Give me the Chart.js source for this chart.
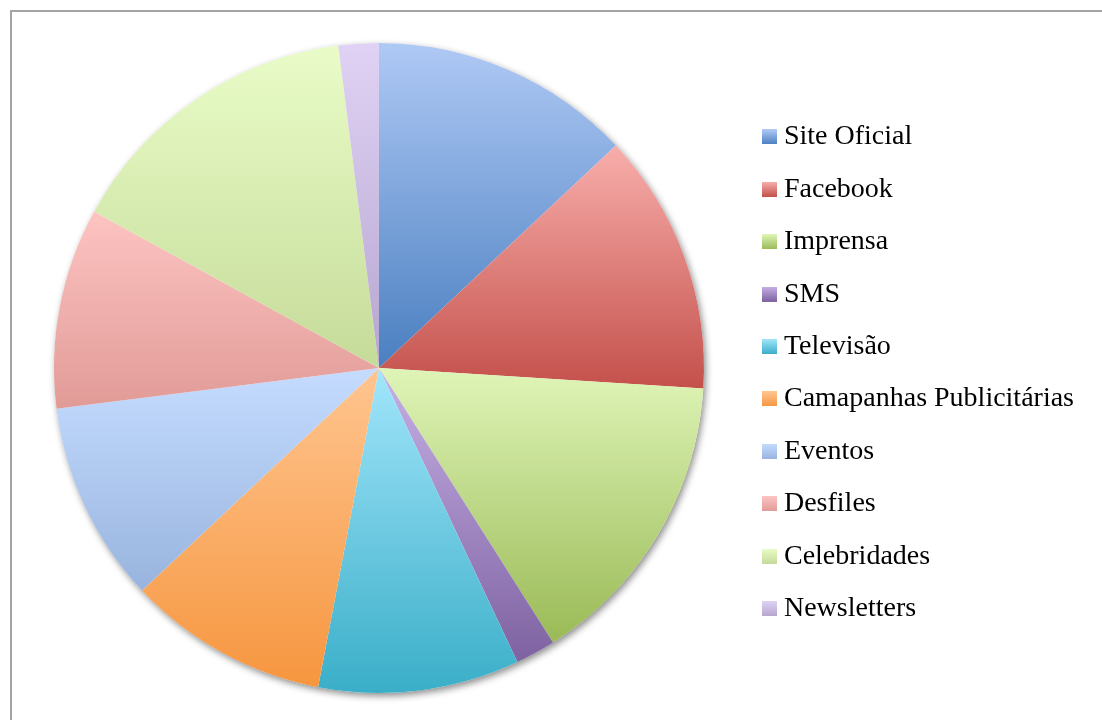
<!DOCTYPE html>
<html>
<head>
<meta charset="utf-8">
<script src="https://cdn.jsdelivr.net/npm/chart.js@4/dist/chart.umd.min.js"></script>
<style>
    html, body { margin: 0; padding: 0; background: #ffffff; overflow: hidden; }
    #frame {
        position: absolute; left: 10px; top: 10px; right: 0; bottom: 0;
        border-top: 2px solid #a4a4a4;
        border-left: 2px solid #a4a4a4;
    }
    #wrap { position: absolute; left: 0; top: 0; width: 1102px; height: 720px; }
</style>
</head>
<body>
<div id="frame"></div>
<div id="wrap"><canvas id="canaisChart"></canvas></div>
<script>
const categories = [
    'Site Oficial', 'Facebook', 'Imprensa', 'SMS', 'Televisão',
    'Camapanhas Publicitárias', 'Eventos', 'Desfiles', 'Celebridades', 'Newsletters'
];
const shares = [13, 13, 15, 2, 10, 10, 10, 10, 15, 2];

// cor clara (topo da fatia) e cor escura (base da fatia)
const topColors = [
    '#afc9f5', '#f8aeab', '#dff5b8', '#c6b0e6', '#a2e6fb',
    '#ffc590', '#c5dcff', '#fdc4c2', '#e9fcc8', '#e0d2f4'
];
const bottomColors = [
    '#4a7fc0', '#c4504b', '#9aba56', '#7e62a1', '#3aaec8',
    '#f6963f', '#98b4de', '#e19b97', '#c5db99', '#b6a6d0'
];

const SWATCH = 15;

function verticalGradient(ctx, y0, y1, i) {
    const g = ctx.createLinearGradient(0, y0, 0, y1);
    g.addColorStop(0, topColors[i]);
    g.addColorStop(1, bottomColors[i]);
    return g;
}

// quadradinhos da legenda com o mesmo degradê das fatias
const swatches = categories.map(function(_, i) {
    const c = document.createElement('canvas');
    c.width = SWATCH;
    c.height = SWATCH;
    const cx = c.getContext('2d');
    cx.fillStyle = verticalGradient(cx, 0, SWATCH, i);
    cx.fillRect(0, 0, SWATCH, SWATCH);
    return c;
});

// limites verticais de uma fatia (centro, extremos e topo/base do círculo)
function arcExtent(arc) {
    const { x, y, startAngle, endAngle, outerRadius } = arc;
    const ys = [y, y + outerRadius * Math.sin(startAngle), y + outerRadius * Math.sin(endAngle)];
    [-Math.PI / 2, Math.PI / 2, 3 * Math.PI / 2].forEach(function(a) {
        if (a > startAngle && a < endAngle) ys.push(y + outerRadius * Math.sin(a));
    });
    return [Math.min.apply(null, ys), Math.max.apply(null, ys)];
}

const gradientPlugin = {
    id: 'gradientes',
    beforeDraw(chart) {
        const legend = chart.legend;
        if (legend && legend.legendItems) {
            legend.legendItems.forEach(function(item) {
                item.pointStyle = swatches[item.index];
            });
        }
    },
    beforeDatasetsDraw(chart) {
        const ctx = chart.ctx;
        const meta = chart.getDatasetMeta(0);
        if (!meta.data.length) return;
        const first = meta.data[0];

        // sombra do disco inteiro, desenhada por baixo das fatias
        ctx.save();
        ctx.shadowColor = 'rgba(0, 0, 0, 0.45)';
        ctx.shadowBlur = 7;
        ctx.shadowOffsetX = 2;
        ctx.shadowOffsetY = 3;
        ctx.fillStyle = '#ffffff';
        ctx.beginPath();
        ctx.arc(first.x, first.y, first.outerRadius, 0, Math.PI * 2);
        ctx.fill();
        ctx.restore();

        meta.data.forEach(function(arc, i) {
            const ext = arcExtent(arc);
            arc.options = Object.assign({}, arc.options, {
                backgroundColor: verticalGradient(ctx, ext[0], ext[1], i)
            });
        });
    }
};

new Chart(document.getElementById('canaisChart').getContext('2d'), {
    type: 'pie',
    data: {
        labels: categories,
        datasets: [{
            data: shares,
            backgroundColor: bottomColors,
            borderWidth: 0
        }]
    },
    options: {
        responsive: true,
        maintainAspectRatio: false,
        animation: false,
        layout: {
            padding: { left: 13.4, right: 18, top: 43, bottom: 27 }
        },
        plugins: {
            legend: {
                position: 'right',
                // título vazio só para descer um pouco a coluna da legenda
                title: { display: true, text: ' ', font: { size: 1 }, padding: 4.15 },
                labels: {
                    color: '#000000',
                    font: { family: 'Liberation Serif', size: 28 },
                    usePointStyle: true,
                    boxWidth: 1,
                    boxHeight: SWATCH,
                    padding: 24.4
                }
            },
            tooltip: { enabled: false }
        }
    },
    plugins: [gradientPlugin]
});
</script>
</body>
</html>
